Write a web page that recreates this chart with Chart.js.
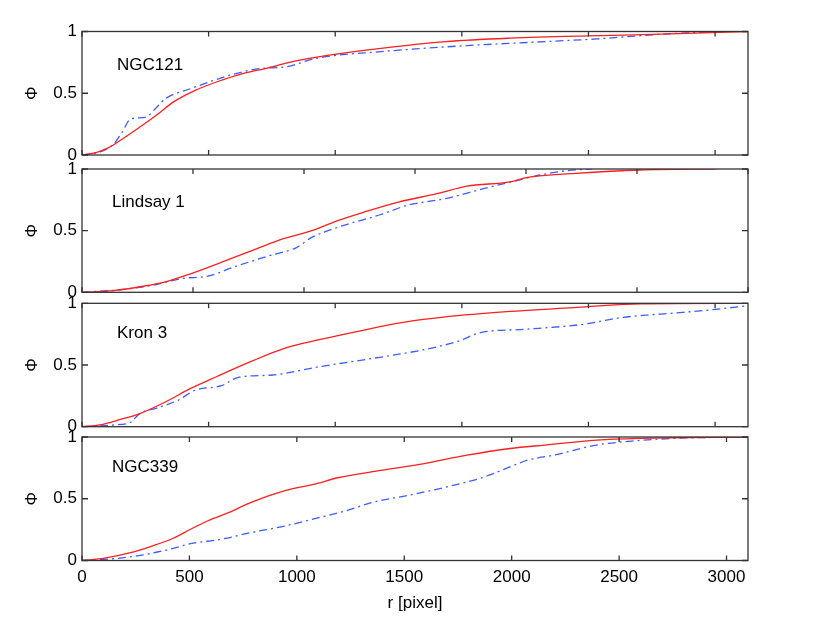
<!DOCTYPE html>
<html>
<head>
<meta charset="utf-8">
<script src="https://cdn.jsdelivr.net/npm/chart.js@4/dist/chart.umd.min.js"></script>
<style>
  body { margin: 0; background: #fff; }
  #wrap { position: relative; width: 830px; height: 625px; }
  #wrap canvas { position: absolute; left: 0; top: 0; }
</style>
</head>
<body>
<div id="wrap">
  <canvas id="p0" width="830" height="625"></canvas>
  <canvas id="p1" width="830" height="625"></canvas>
  <canvas id="p2" width="830" height="625"></canvas>
  <canvas id="p3" width="830" height="625"></canvas>
</div>
<script>
const panelNames = ['NGC121', 'Lindsay 1', 'Kron 3', 'NGC339']
const rMax = [2630, 3000, 2630, 3100]
const xTickValues = [0, 500, 1000, 1500, 2000, 2500, 3000]
const yTickValues = [0, 0.5, 1]

// NGC121
const ngc121SolidR = [0, 55, 105, 158, 226, 295, 360, 447, 531, 634, 736, 839, 976, 1181, 1436, 1691, 1999, 2288, 2630]
const ngc121SolidPhi = [0, 0.019, 0.06, 0.128, 0.223, 0.324, 0.428, 0.523, 0.591, 0.659, 0.706, 0.76, 0.809, 0.864, 0.918, 0.946, 0.965, 0.978, 1.0]
const ngc121DashR = [0, 71, 124, 158, 192, 250, 295, 329, 429, 584, 702, 805, 923, 1181, 1520, 1778, 2033, 2288, 2512]
const ngc121DashPhi = [0, 0.025, 0.087, 0.183, 0.292, 0.305, 0.387, 0.455, 0.537, 0.646, 0.70, 0.714, 0.782, 0.837, 0.886, 0.913, 0.94, 0.978, 1.0]

// Lindsay 1
const lindsaySolidR = [0, 141, 276, 375, 489, 624, 762, 879, 1035, 1152, 1269, 1425, 1599, 1734, 1929, 2007, 2223, 2514, 2853]
const lindsaySolidPhi = [0, 0.014, 0.049, 0.085, 0.150, 0.240, 0.336, 0.418, 0.50, 0.582, 0.650, 0.732, 0.80, 0.861, 0.896, 0.932, 0.964, 0.992, 1.0]
const lindsayDashR = [0, 180, 336, 450, 567, 684, 840, 966, 1035, 1152, 1347, 1464, 1638, 1812, 1968, 2085, 2181, 2298]
const lindsayDashPhi = [0, 0.022, 0.063, 0.112, 0.131, 0.205, 0.295, 0.363, 0.445, 0.527, 0.631, 0.705, 0.760, 0.842, 0.910, 0.959, 0.986, 1.0]

// Kron 3
const kronSolidR = [0, 71, 158, 226, 329, 429, 531, 668, 805, 942, 1094, 1262, 1436, 1691, 1999, 2204, 2630]
const kronSolidPhi = [0, 0.014, 0.063, 0.104, 0.20, 0.31, 0.405, 0.529, 0.638, 0.707, 0.775, 0.844, 0.89, 0.934, 0.973, 0.995, 1.0]
const kronDashR = [0, 124, 192, 226, 295, 379, 447, 550, 618, 752, 942, 1112, 1352, 1486, 1573, 1744, 1980, 2133, 2372, 2512, 2630]
const kronDashPhi = [0, 0.014, 0.036, 0.104, 0.151, 0.214, 0.296, 0.332, 0.40, 0.419, 0.488, 0.542, 0.625, 0.693, 0.762, 0.789, 0.830, 0.885, 0.926, 0.953, 0.981]

// NGC339
const ngc339SolidR = [0, 105, 226, 326, 425, 505, 586, 688, 787, 949, 1088, 1190, 1392, 1593, 1792, 1993, 2155, 2396, 2598, 3100]
const ngc339SolidPhi = [0, 0.019, 0.063, 0.117, 0.18, 0.253, 0.322, 0.392, 0.471, 0.567, 0.621, 0.670, 0.730, 0.785, 0.853, 0.907, 0.935, 0.975, 0.989, 1.0]
const ngc339DashR = [0, 146, 285, 406, 505, 648, 787, 949, 1088, 1231, 1352, 1513, 1693, 1872, 1972, 2074, 2195, 2396, 2558, 2759, 3100]
const ngc339DashPhi = [0, 0.014, 0.046, 0.09, 0.136, 0.172, 0.226, 0.281, 0.341, 0.403, 0.471, 0.526, 0.594, 0.676, 0.744, 0.812, 0.853, 0.935, 0.967, 0.989, 1.0]

const solidR = [ngc121SolidR, lindsaySolidR, kronSolidR, ngc339SolidR]
const solidPhi = [ngc121SolidPhi, lindsaySolidPhi, kronSolidPhi, ngc339SolidPhi]
const dashR = [ngc121DashR, lindsayDashR, kronDashR, ngc339DashR]
const dashPhi = [ngc121DashPhi, lindsayDashPhi, kronDashPhi, ngc339DashPhi]

// layout of the four stacked panels (canvas pixels)
const plotTop = [31.5, 169, 303.3, 437]
const plotBottom = [155, 292.3, 426.7, 560.5]
const labelOffset = [[35, 34], [30, 33], [35, 30], [30, 30]]

Chart.defaults.font.family = '"Liberation Sans", Arial, Helvetica, sans-serif'
Chart.defaults.font.size = 17
Chart.defaults.color = '#000'

const toPoints = (xs, ys) => xs.map((x, i) => ({ x: x, y: ys[i] }))

const framePlugin = {
  id: 'frame',
  afterDraw(chart) {
    const { ctx, chartArea: a, scales: { x, y } } = chart
    const k = chart.options.plugins.frame.panel
    ctx.save()
    ctx.strokeStyle = '#333'
    ctx.lineWidth = 1.3
    ctx.strokeRect(a.left, a.top, a.right - a.left, a.bottom - a.top)
    ctx.beginPath()
    x.ticks.forEach(t => {
      const px = x.getPixelForValue(t.value)
      ctx.moveTo(px, a.bottom); ctx.lineTo(px, a.bottom - 5)
      ctx.moveTo(px, a.top); ctx.lineTo(px, a.top + 5)
    })
    y.ticks.forEach(t => {
      const py = y.getPixelForValue(t.value)
      ctx.moveTo(a.left, py); ctx.lineTo(a.left + 6, py)
      ctx.moveTo(a.right, py); ctx.lineTo(a.right - 6, py)
    })
    ctx.stroke()
    ctx.fillStyle = '#000'
    ctx.font = '17px "Liberation Sans", Arial, sans-serif'
    ctx.textBaseline = 'middle'
    ctx.textAlign = 'left'
    ctx.fillText(panelNames[k], a.left + labelOffset[k][0], a.top + labelOffset[k][1])
    ctx.restore()
  }
}

panelNames.forEach((name, k) => {
  const last = k === panelNames.length - 1
  new Chart(document.querySelector('#p' + k), {
    type: 'line',
    plugins: [framePlugin],
    data: {
      datasets: [
        {
          label: name + ' solid',
          data: toPoints(solidR[k], solidPhi[k]),
          borderColor: '#ff1f1f',
          borderWidth: 1.3,
          pointRadius: 0,
          cubicInterpolationMode: 'monotone'
        },
        {
          label: name + ' dash-dot',
          data: toPoints(dashR[k], dashPhi[k]),
          borderColor: '#3d5cff',
          borderWidth: 1.3,
          borderDash: [8, 4, 2, 4],
          pointRadius: 0,
          cubicInterpolationMode: 'monotone'
        }
      ]
    },
    options: {
      responsive: false,
      animation: false,
      layout: {
        padding: {
          top: plotTop[k],
          bottom: last ? 0 : 625 - plotBottom[k],
          left: 0,
          right: 82
        }
      },
      scales: {
        x: {
          type: 'linear',
          min: 0,
          max: rMax[k],
          grid: { display: false, drawTicks: false },
          border: { display: false },
          afterBuildTicks: s => {
            s.ticks = xTickValues.filter(v => v <= rMax[k]).map(v => ({ value: v }))
          },
          ticks: {
            display: last,
            padding: 7,
            maxRotation: 0,
            autoSkip: false,
            callback: v => String(v)
          },
          title: {
            display: last,
            text: 'r [pixel]',
            padding: { top: 0, bottom: 11 }
          },
          afterFit: s => { s.height = last ? 625 - plotBottom[k] : 0 }
        },
        y: {
          min: 0,
          max: 1,
          grid: { display: false, drawTicks: false },
          border: { display: false },
          afterBuildTicks: s => {
            s.ticks = yTickValues.map(v => ({ value: v }))
          },
          ticks: {
            padding: 5,
            callback: v => String(v)
          },
          title: {
            display: true,
            text: 'Φ',
            padding: { top: 22, bottom: 0 }
          },
          afterFit: s => { s.width = 82 }
        }
      },
      plugins: {
        legend: { display: false },
        tooltip: { enabled: false },
        frame: { panel: k }
      }
    }
  })
})
</script>
</body>
</html>
